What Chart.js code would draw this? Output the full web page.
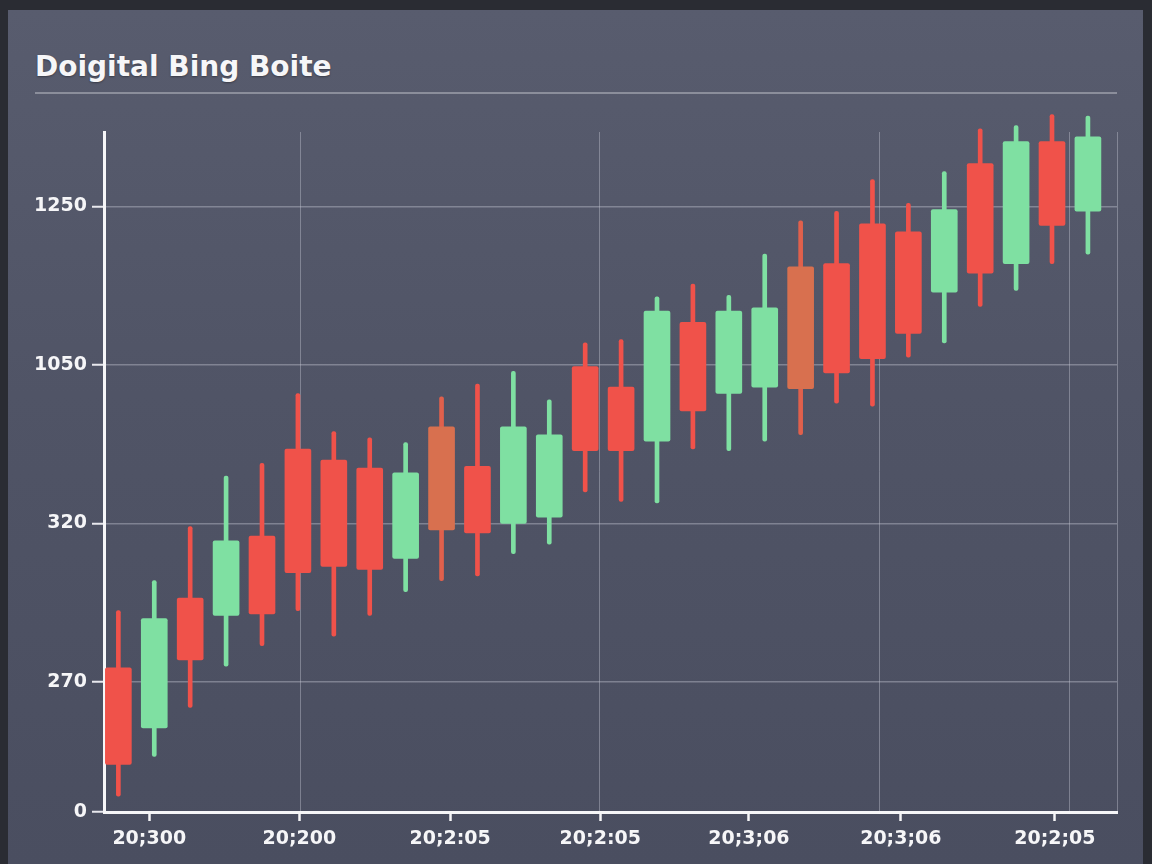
<!DOCTYPE html>
<html>
<head>
<meta charset="utf-8">
<title>Doigital Bing Boite</title>
<script src="https://cdn.jsdelivr.net/npm/chart.js@4.4.1/dist/chart.umd.min.js"></script>
<style>
    html, body { margin: 0; padding: 0; }
    body {
        width: 1152px; height: 864px; overflow: hidden; position: relative;
        background: #2a2c33;
    }
    .panel {
        position: absolute; left: 8px; top: 10px; width: 1135px; height: 854px;
        background: linear-gradient(180deg, #585c6e 0%, #505466 45%, #4a4e60 100%);
    }
    .title {
        position: absolute; left: 35px; top: 53px; margin: 0;
        font: bold 28px/28px "DejaVu Sans", sans-serif; color: #f6f6f8;
        text-shadow: 0 1px 2px rgba(0, 0, 0, 0.35);
    }
    .rule {
        position: absolute; left: 35px; top: 92px; width: 1082px; height: 2px;
        background: #8b8e9b;
    }
    canvas { position: absolute; left: 0; top: 0; }
</style>
</head>
<body>
<div class="panel"></div>
<h1 class="title">Doigital Bing Boite</h1>
<div class="rule"></div>
<canvas id="candles" width="1152" height="864"></canvas>
<script>
    "use strict";

    // candle values, in axis level units (tick labels mapped below)
    const candleOpen  = [1.09, 0.71, 1.53, 1.42, 1.92, 2.47, 2.40, 2.35, 1.78, 2.61, 2.36, 2.00, 2.04, 2.99, 2.86, 2.52, 3.27, 2.82, 2.86, 3.62, 3.64, 3.89, 3.84, 3.46, 4.27, 3.64, 4.41, 3.97];
    const candleClose = [0.48, 1.40, 1.14, 1.89, 1.43, 1.69, 1.73, 1.71, 2.32, 1.96, 1.94, 2.61, 2.56, 2.46, 2.46, 3.34, 2.71, 3.34, 3.36, 2.85, 2.95, 3.04, 3.20, 3.98, 3.58, 4.41, 3.88, 4.44];
    const candleHigh  = [1.45, 1.64, 1.98, 2.30, 2.38, 2.82, 2.58, 2.54, 2.51, 2.80, 2.88, 2.96, 2.78, 3.14, 3.16, 3.43, 3.51, 3.44, 3.70, 3.91, 3.97, 4.17, 4.02, 4.22, 4.49, 4.51, 4.58, 4.57];
    const candleLow   = [0.28, 0.53, 0.84, 1.10, 1.23, 1.45, 1.29, 1.42, 1.57, 1.64, 1.67, 1.81, 1.87, 2.20, 2.14, 2.13, 2.47, 2.46, 2.52, 2.56, 2.76, 2.74, 3.05, 3.14, 3.37, 3.47, 3.64, 3.70];

    const yTickValues = [0.18, 1, 2, 3, 4];
    const yTickLabels = ["0", "270", "320", "1050", "1250"];

    const xTickValues = [0.86, 5.04, 9.24, 13.42, 17.56, 21.79, 26.08];
    const xTickLabels = ["20;300", "20;200", "20;2:05", "20;2:05", "20;3;06", "20;3;06", "20;2;05"];

    // candles drawn in the muted orange shade
    const accentCandles = [9, 19];

    const UP = "#7fe0a2";
    const DOWN = "#f0524a";
    const ACCENT = "#d8704f";
    const GRID = "rgba(196, 198, 210, 0.42)";
    const FONT = { family: "'DejaVu Sans', sans-serif", size: 19, weight: "bold" };

    const X_MIN = -0.40, X_MAX = 27.81;
    const xGridValues = [5.06, 13.41, 21.21, 26.5, X_MAX];

    function colorOf(i) {
        if (accentCandles.includes(i)) return ACCENT;
        return candleClose[i] >= candleOpen[i] ? UP : DOWN;
    }
    function wickColorOf(i) {
        if (accentCandles.includes(i)) return "#e0604c";
        return colorOf(i);
    }

    const bodies = candleOpen.map((o, i) => ({ x: i, y: [o, candleClose[i]] }));
    const wicks = candleLow.map((l, i) => ({ x: i, y: [l, candleHigh[i]] }));

    const xLabelMap = new Map(xTickValues.map((v, i) => [v, xTickLabels[i]]));
    const yLabelMap = new Map(yTickValues.map((v, i) => [v, yTickLabels[i]]));
    const xAllTicks = [...new Set([...xTickValues, ...xGridValues])].sort((a, b) => a - b);

    new Chart(document.getElementById("candles").getContext("2d"), {
        type: "bar",
        data: {
            datasets: [{
                label: "body",
                data: bodies,
                backgroundColor: bodies.map((_, i) => colorOf(i)),
                barThickness: 26,
                borderRadius: 2,
                borderSkipped: false,
                grouped: false,
                clip: false
            }, {
                label: "wick",
                data: wicks,
                backgroundColor: wicks.map((_, i) => wickColorOf(i)),
                barThickness: 4,
                borderRadius: 2,
                borderSkipped: false,
                grouped: false,
                clip: false
            }]
        },
        options: {
            responsive: false,
            animation: false,
            devicePixelRatio: 1,
            layout: { padding: { left: 0, right: 35, top: 132, bottom: 0 } },
            plugins: { legend: { display: false }, tooltip: { enabled: false } },
            scales: {
                x: {
                    type: "linear",
                    min: X_MIN,
                    max: X_MAX,
                    offset: false,
                    afterBuildTicks: scale => { scale.ticks = xAllTicks.map(v => ({ value: v })); },
                    afterFit: scale => { scale.height = 52; },
                    ticks: {
                        autoSkip: false,
                        maxRotation: 0,
                        color: "#f6f6f8",
                        font: FONT,
                        padding: 7,
                        callback: value => xLabelMap.get(value) || ""
                    },
                    grid: {
                        offset: false,
                        color: ctx => (ctx.tick && xGridValues.includes(ctx.tick.value)) ? GRID : "transparent",
                        tickColor: ctx => (ctx.tick && xLabelMap.has(ctx.tick.value)) ? "#f6f6f8" : "transparent",
                        lineWidth: 1,
                        tickWidth: 2.5,
                        tickLength: 9
                    },
                    border: { color: "#f6f6f8", width: 3 }
                },
                y: {
                    type: "linear",
                    min: yTickValues[0],
                    max: 4.47,
                    afterBuildTicks: scale => { scale.ticks = yTickValues.map(v => ({ value: v })); },
                    afterFit: scale => { scale.width = 104; },
                    ticks: {
                        color: "#f6f6f8",
                        font: FONT,
                        padding: 5,
                        callback: value => yLabelMap.get(value) || ""
                    },
                    grid: {
                        color: ctx => (ctx.tick && ctx.tick.value === yTickValues[0]) ? "transparent" : GRID,
                        tickColor: "#e8e8ee",
                        lineWidth: 1.5,
                        tickWidth: 2,
                        tickLength: 12
                    },
                    border: { color: "#f6f6f8", width: 3 }
                }
            }
        }
    });
</script>
</body>
</html>
